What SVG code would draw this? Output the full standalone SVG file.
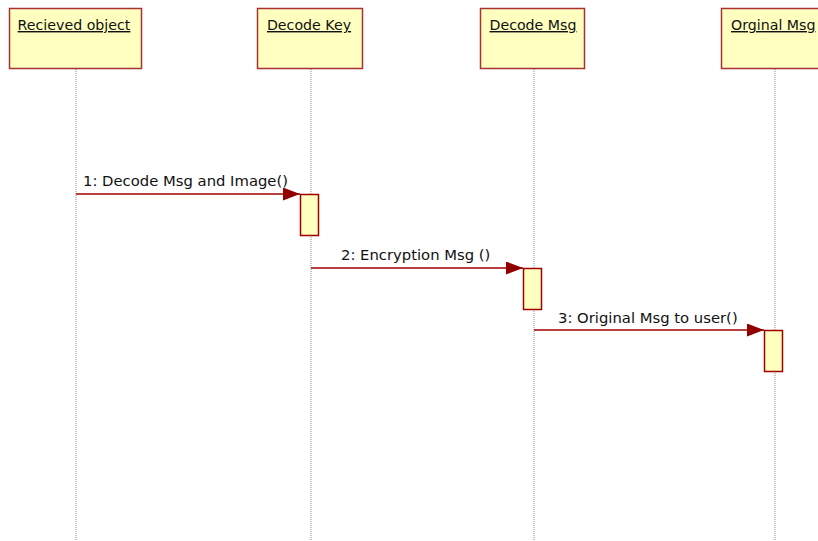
<svg xmlns="http://www.w3.org/2000/svg" width="818" height="541" viewBox="0 0 818 541">
  <style>
    .head { fill: #ffffc0; stroke: #a83232; stroke-width: 1.5; }
    .act { fill: #ffffc0; stroke: #a00000; stroke-width: 1.5; }
    .life { stroke: #8a8a8a; stroke-width: 1; stroke-dasharray: 1 1; fill: none; }
    .msg { stroke: #a00000; stroke-width: 1.3; fill: none; }
    .title { font-family: "DejaVu Sans", Verdana, sans-serif; font-size: 14.2px; fill: #111; text-decoration: underline; text-anchor: middle; }
    .label { font-family: "DejaVu Sans", Verdana, sans-serif; font-size: 14.8px; fill: #111; }
  </style>
  <defs>
    <marker id="arrow" markerWidth="17" markerHeight="13" refX="17" refY="6.5" orient="auto" markerUnits="userSpaceOnUse">
      <path d="M0,0 L17,6.5 L0,13 Z" fill="#900000"/>
    </marker>
  </defs>
  <rect width="818" height="541" fill="#ffffff"/>

  <g id="lifelines">
    <line class="life" x1="76" y1="69" x2="76" y2="541"/>
    <line class="life" x1="311" y1="69" x2="311" y2="541"/>
    <line class="life" x1="534" y1="69" x2="534" y2="541"/>
    <line class="life" x1="775" y1="69" x2="775" y2="541"/>
  </g>

  <g id="recieved-object">
    <rect class="head" x="9.5" y="8.5" width="132" height="60"/>
    <text class="title" x="74" y="30">Recieved object</text>
  </g>
  <g id="decode-key">
    <rect class="head" x="257.5" y="8.5" width="105" height="60"/>
    <text class="title" x="309" y="30">Decode Key</text>
    <rect class="act" x="300.5" y="194.5" width="18" height="41"/>
  </g>
  <g id="decode-msg">
    <rect class="head" x="480.5" y="8.5" width="104" height="60"/>
    <text class="title" x="533" y="30">Decode Msg</text>
    <rect class="act" x="523.5" y="268.5" width="18" height="41"/>
  </g>
  <g id="orginal-msg">
    <rect class="head" x="721.5" y="8.5" width="110" height="60"/>
    <text class="title" x="731" y="30" style="text-anchor:start">Orginal Msg</text>
    <rect class="act" x="764.5" y="330.5" width="18" height="41"/>
  </g>

  <g id="connectors">
    <line class="msg" x1="76" y1="194" x2="300" y2="194" marker-end="url(#arrow)"/>
    <text class="label" x="83" y="186">1: Decode Msg and Image()</text>
    <line class="msg" x1="311" y1="268" x2="523" y2="268" marker-end="url(#arrow)"/>
    <text class="label" x="341" y="260">2: Encryption Msg ()</text>
    <line class="msg" x1="534" y1="330" x2="764" y2="330" marker-end="url(#arrow)"/>
    <text class="label" x="558" y="323">3: Original Msg to user()</text>
  </g>
</svg>
